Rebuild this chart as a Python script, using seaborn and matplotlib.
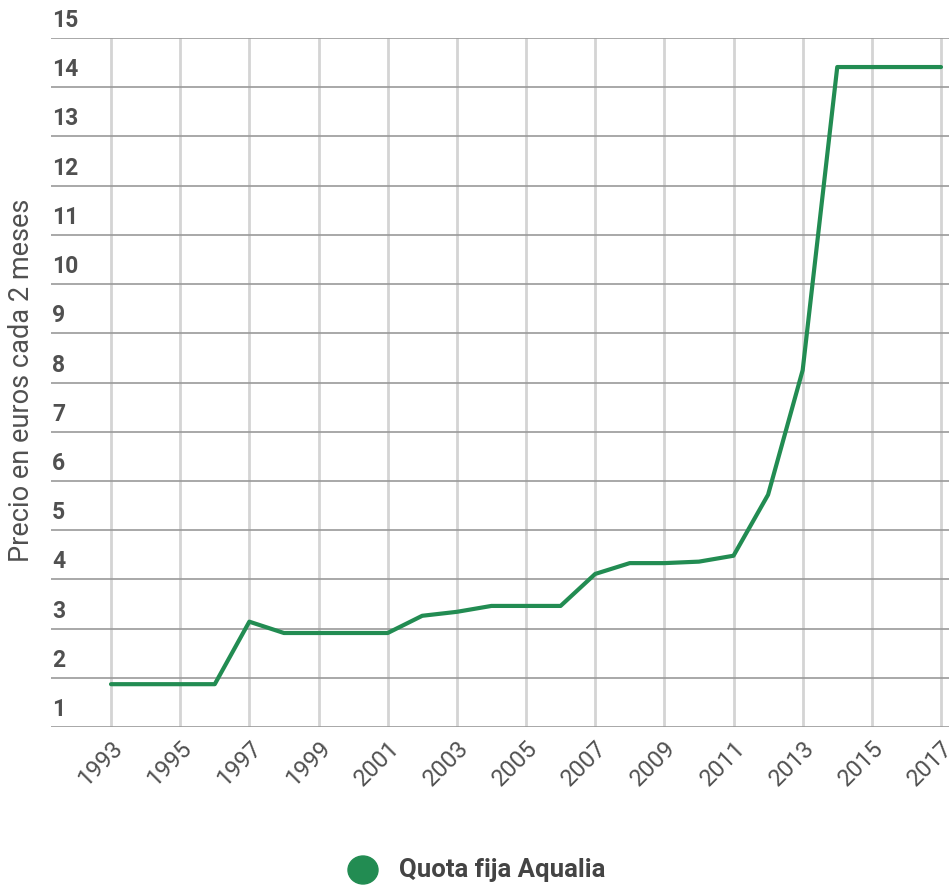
import numpy as np
import pandas as pd
import matplotlib.pyplot as plt
import matplotlib.transforms as mtransforms
import seaborn as sns

# datos
anios = list(range(1993, 2018))
cuota = [1.87, 1.87, 1.87, 1.87, 3.14, 2.91, 2.91, 2.91, 2.91, 3.26,
         3.34, 3.46, 3.46, 3.46, 4.11, 4.33, 4.33, 4.36, 4.48, 5.72,
         8.25, 14.41, 14.41, 14.41, 14.41]
ticks_x = list(range(1993, 2018, 2))
ticks_y = list(range(1, 16))
serie = 'Quota fija Aqualia'

df = pd.DataFrame({'anio': anios, 'cuota': cuota})

sns.set_theme(style='white')
plt.rcParams['font.family'] = ['Roboto', 'DejaVu Sans']

verde = '#228c52'
gris_txt = '#505050'

fig = plt.figure(figsize=(9.49, 8.85), dpi=100)
W, H = 949, 885
ax = fig.add_axes([51 / W, (H - 727) / H, 898 / W, 689 / H])

px_anio = (941 - 111) / 24
ax.set_xlim(1993 - 60 / px_anio, 2017 + 8 / px_anio)
ax.set_ylim(1, 15)

# rejilla
for a in ticks_x:
    ax.axvline(a, color='#d4d4d4', lw=2.0, zorder=1)
for v in ticks_y:
    ax.axhline(v, color='#9a9a9a', lw=1.2, zorder=1.5)

sns.lineplot(data=df, x='anio', y='cuota', color=verde, lw=3.0, ax=ax,
             zorder=3, clip_on=False)

for s in ax.spines.values():
    s.set_visible(False)

ax.set_xticks(ticks_x)
ax.set_xticklabels([str(a) for a in ticks_x], rotation=45, ha='right',
                   rotation_mode='anchor', fontsize=17, color=gris_txt)
ax.tick_params(axis='x', length=0, pad=7)
ax.set_yticks([])
ax.set_xlabel('')
ax.set_ylabel('')

# etiquetas del eje y encima de cada linea
trans = mtransforms.blended_transform_factory(ax.transAxes, ax.transData)
trans = mtransforms.offset_copy(trans, fig=fig, x=1, y=6, units='dots')
for v in ticks_y:
    ax.text(0.0, v, str(v), transform=trans, ha='left', va='bottom',
            fontsize=16.5, fontweight='bold', color=gris_txt)

fig.text(22 / W, 1 - 380 / H, 'Precio en euros cada 2 meses', rotation=90,
         ha='center', va='center', fontsize=19.5, color=gris_txt)

# leyenda
fig.patches.append(plt.Circle((363 / W, 1 - 870 / H), 15 / W,
                              transform=fig.transFigure, color=verde))
fig.text(399 / W, 1 - 870 / H, serie, ha='left', va='center',
         fontsize=18.5, fontweight='bold', color='#444444')

fig.savefig('out.png', dpi=100)
